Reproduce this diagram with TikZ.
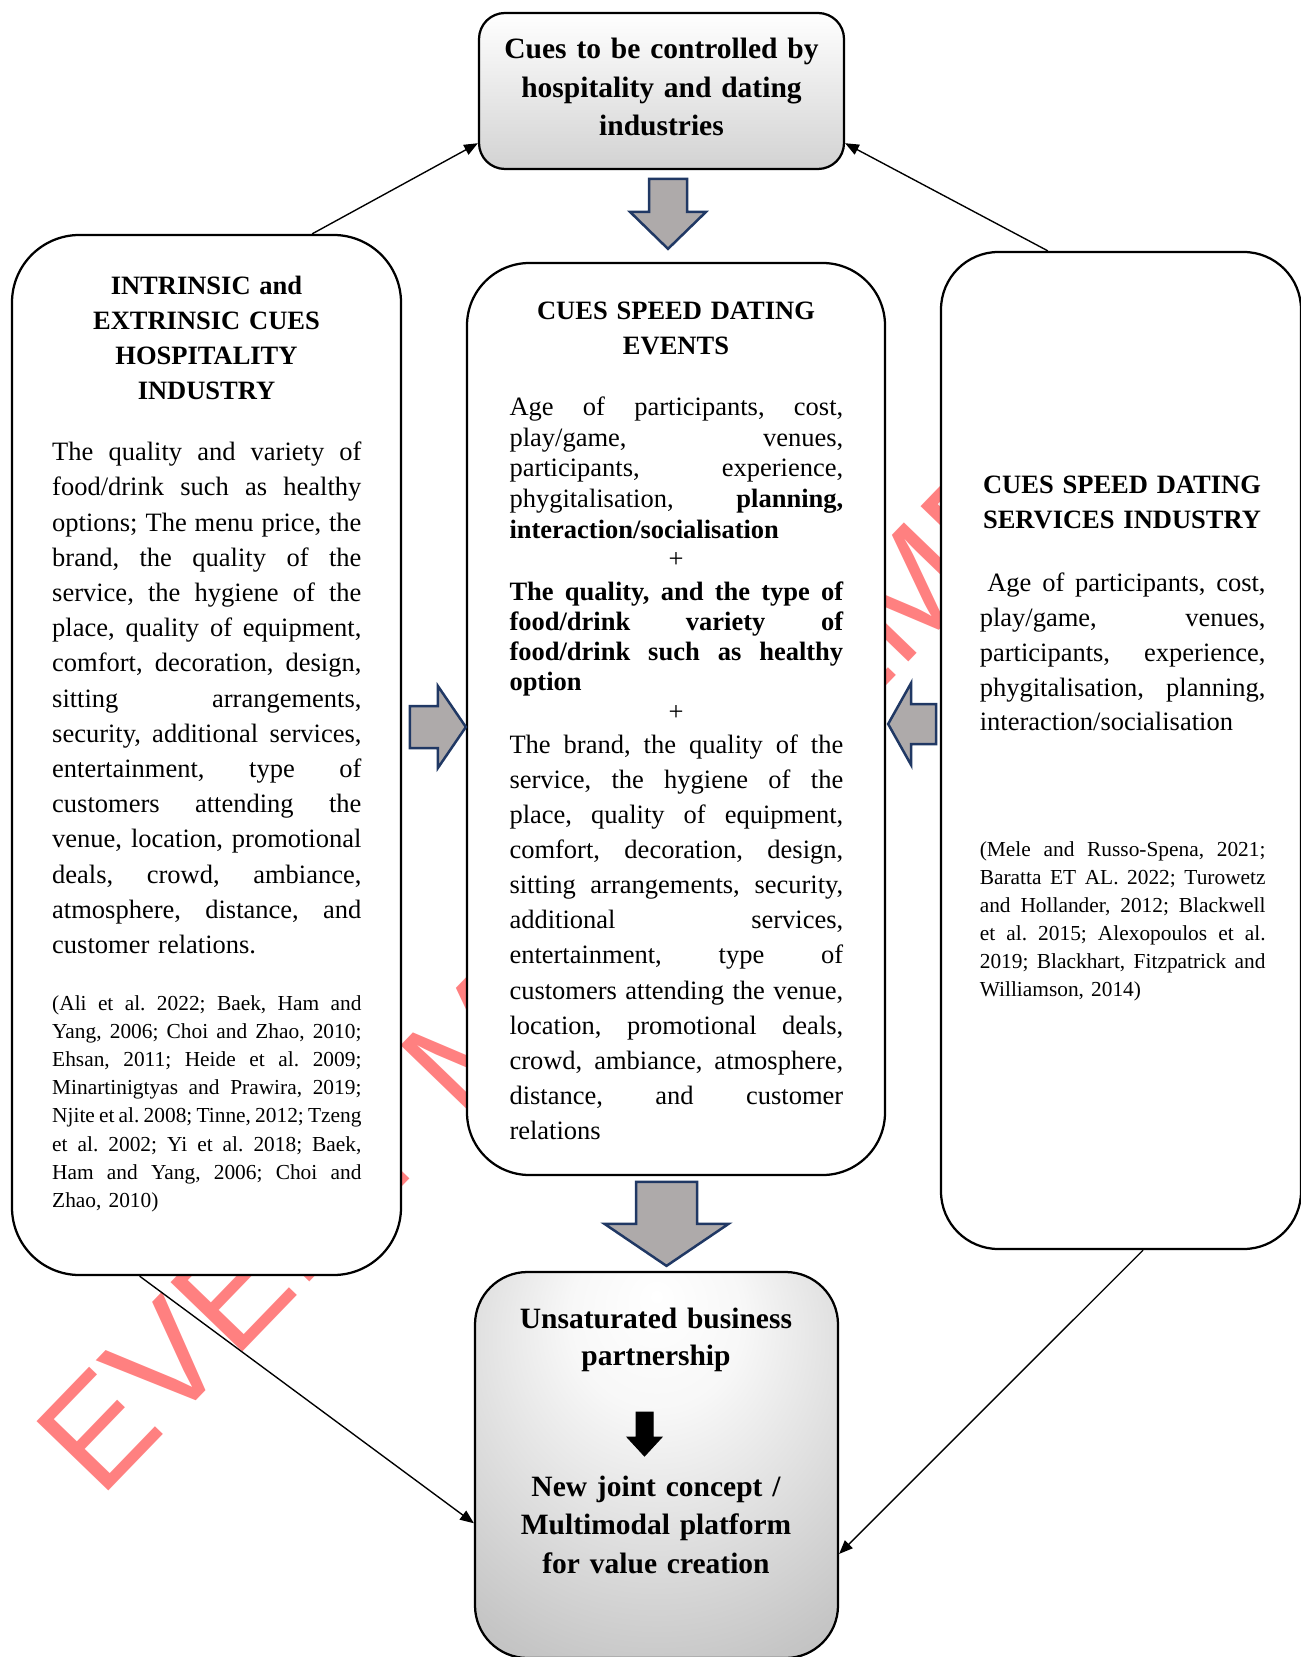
\documentclass[tikz,border=0pt]{standalone}
\usepackage{fontspec}
\setmainfont{Liberation Serif}
\newfontfamily\wmfont{Liberation Sans}
\usetikzlibrary{arrows.meta,calc,positioning}
\definecolor{arrowgray}{RGB}{174,170,170}
\definecolor{arrownavy}{RGB}{32,56,100}
\definecolor{wmred}{RGB}{255,128,128}
\frenchspacing
\newcommand{\jl}[1]{\leavevmode\hbox to\hsize{\spaceskip=0pt\xspaceskip=0pt #1}\\}
\pgfdeclareradialshading{partnerglow}{\pgfpoint{0bp}{22bp}}{color(0bp)=(white); color(12bp)=(gray!6); color(40bp)=(gray!45); color(60bp)=(gray!66); color(90bp)=(gray!75)}

\begin{document}
\begin{tikzpicture}[x=0.4pt, y=-0.4pt,
    cuebox/.style={draw, line width=0.9pt, fill=white, inner sep=0pt},
    block/.style={draw=arrownavy, fill=arrowgray, line width=1pt, line join=miter},
    link/.style={-{Triangle[length=5.5pt,width=4.4pt]}, line width=0.55pt},
    txt/.style={inner sep=0pt, anchor=base west, align=left},
    ttl/.style={inner sep=0pt, anchor=base, align=center, text width=150pt,
                font=\bfseries\fontsize{10.6pt}{13.9pt}\selectfont},
    headline/.style={inner sep=0pt, anchor=base, align=center, text width=145pt},
    wm/.style={text=wmred, font=\wmfont\fontsize{58pt}{58pt}\selectfont, inner sep=0pt}]
\useasboundingbox (0,0) rectangle (1300,1657);

% watermark behind everything
\node[wm, rotate=46, anchor=base west] (wmark) at (100,1500) {EVENT MANAGEMENT};

% boxes
\node[cuebox, minimum width=146pt, minimum height=62.4pt, rounded corners=10.4pt,
      top color=white, bottom color=gray!35] (top) at (661.5,91) {};
\node[cuebox, minimum width=155.6pt, minimum height=416pt, rounded corners=27pt] (intr) at (206.5,755) {};
\node[cuebox, minimum width=167.2pt, minimum height=364.8pt, rounded corners=25pt] (events) at (676,719) {};
\node[cuebox, minimum width=144pt, minimum height=398.8pt, rounded corners=23pt] (services) at (1121,750.5) {};
\node[cuebox, minimum width=145.2pt, minimum height=154.4pt, rounded corners=21pt,
      shade, shading=partnerglow] (partner) at (656.5,1465) {};

% block arrows
\draw[block] ($(events.north)+(-8,-13)$) -- ++(38,-37) -- ++(-19,0) -- ++(0,-33)
    -- ++(-38,0) -- ++(0,33) -- ++(-19,0) -- cycle;
\draw[block] ($(partner.north)+(10,-5)$) -- ++(62,-42) -- ++(-31.5,0) -- ++(0,-42)
    -- ++(-61,0) -- ++(0,42) -- ++(-31.5,0) -- cycle;
\draw[block] ($(events.west)+(0,8)$) -- ++(-28,-41) -- ++(0,20) -- ++(-28,0)
    -- ++(0,42) -- ++(28,0) -- ++(0,20) -- cycle;
\draw[block] ($(events.east)+(2,5)$) -- ++(23,-41) -- ++(0,21) -- ++(25,0)
    -- ++(0,40) -- ++(-25,0) -- ++(0,21) -- cycle;

% connectors
\draw[link] ($(intr.north west)!0.77!(intr.north east)$) -- ($(top.north west)!0.83!(top.south west)$);
\draw[link] ($(services.north west)!0.298!(services.north east)$) -- ($(top.north east)!0.83!(top.south east)$);
\draw[link] ($(intr.south west)!0.329!(intr.south east)$) -- ($(partner.north west)!0.65!(partner.south west)$);
\draw[link] ($(services.south west)!0.561!(services.south east)$) -- ($(partner.north east)!0.729!(partner.south east)$);

% top box
\node[headline, font=\bfseries\fontsize{11.8pt}{15.4pt}\selectfont] (topt) at (661.5,59)
    {Cues to be controlled by\\hospitality and dating\\industries};

% left box
\node[ttl] (intrt) at (206.5,295) {INTRINSIC and\\EXTRINSIC CUES\\HOSPITALITY\\INDUSTRY};
\node[txt, text width=123.7pt, font=\fontsize{10.6pt}{14.08pt}\selectfont] (intrb) at (51.7,460.7) {%
\jl{The quality and variety of}
\jl{food/drink such as healthy}
\jl{options; The menu price, the}
\jl{brand, the quality of the}
\jl{service, the hygiene of the}
\jl{place, quality of equipment,}
\jl{comfort, decoration, design,}
\jl{sitting arrangements,}
\jl{security, additional services,}
\jl{entertainment, type of}
\jl{customers attending the}
\jl{venue, location, promotional}
\jl{deals, crowd, ambiance,}
\jl{atmosphere, distance, and}
customer relations.};
\node[txt, text width=123.7pt, font=\fontsize{8.55pt}{11.29pt}\selectfont] (intrc) at (51.7,1010) {%
\jl{(Ali et al. 2022; Baek, Ham and}
\jl{Yang, 2006; Choi and Zhao, 2010;}
\jl{Ehsan, 2011; Heide et al. 2009;}
\jl{Minartinigtyas and Prawira, 2019;}
\jl{Njite et al. 2008; Tinne, 2012; Tzeng}
\jl{et al. 2002; Yi et al. 2018; Baek,}
\jl{Ham and Yang, 2006; Choi and}
Zhao, 2010)};

% centre box
\node[ttl] (eventst) at (676,319.3) {CUES SPEED DATING\\EVENTS};
\node[txt, text width=133.5pt, font=\fontsize{10.6pt}{12.26pt}\selectfont] (eventsa) at (509,415.7) {%
\jl{Age of participants, cost,}
\jl{play/game, venues,}
\jl{participants, experience,}
\jl{phygitalisation, \textbf{planning,}}
\textbf{interaction/socialisation}};
\node[inner sep=0pt, anchor=base, font=\fontsize{10.6pt}{12pt}\selectfont] (plusa) at (676,567) {+};
\node[txt, text width=133.5pt, font=\bfseries\fontsize{10.6pt}{12.1pt}\selectfont] (eventsb) at (509,600) {%
\jl{The quality, and the type of}
\jl{food/drink variety of}
\jl{food/drink such as healthy}
option};
\node[inner sep=0pt, anchor=base, font=\fontsize{10.6pt}{12pt}\selectfont] (plusb) at (676,720.7) {+};
\node[txt, text width=133.5pt, font=\fontsize{10.6pt}{14.04pt}\selectfont] (eventsc) at (509,753.3) {%
\jl{The brand, the quality of the}
\jl{service, the hygiene of the}
\jl{place, quality of equipment,}
\jl{comfort, decoration, design,}
\jl{sitting arrangements, security,}
\jl{additional services,}
\jl{entertainment, type of}
\jl{customers attending the venue,}
\jl{location, promotional deals,}
\jl{crowd, ambiance, atmosphere,}
\jl{distance, and customer}
relations};

% right box
\node[ttl, font=\bfseries\fontsize{10.6pt}{13.72pt}\selectfont] (servicest) at (1122,494) {CUES SPEED DATING\\SERVICES INDUSTRY};
\node[txt, text width=114.3pt, font=\fontsize{10.6pt}{13.92pt}\selectfont] (servicesb) at (979.3,591.7) {%
\jl{\kern3pt Age of participants, cost,}
\jl{play/game, venues,}
\jl{participants, experience,}
\jl{phygitalisation, planning,}
interaction/socialisation};
\node[txt, text width=114.3pt, font=\fontsize{8.55pt}{11.24pt}\selectfont] (servicesc) at (979.3,856) {%
\jl{(Mele and Russo-Spena, 2021;}
\jl{Baratta ET AL. 2022; Turowetz}
\jl{and Hollander, 2012; Blackwell}
\jl{et al. 2015; Alexopoulos et al.}
\jl{2019; Blackhart, Fitzpatrick and}
Williamson, 2014)};

% bottom box
\node[headline, font=\bfseries\fontsize{11.8pt}{14.7pt}\selectfont] (partnera) at (656,1328.3)
    {Unsaturated business\\partnership};
\draw[fill=black] (636,1412) -- ++(17,0) -- ++(0,25) -- ++(9,0) -- ++(-17.5,19)
    -- ++(-17.5,-19) -- ++(9,0) -- cycle;
\node[headline, font=\bfseries\fontsize{11.8pt}{15.46pt}\selectfont] (partnerb) at (656,1496)
    {New joint concept /\\Multimodal platform\\for value creation};
\end{tikzpicture}
\end{document}
